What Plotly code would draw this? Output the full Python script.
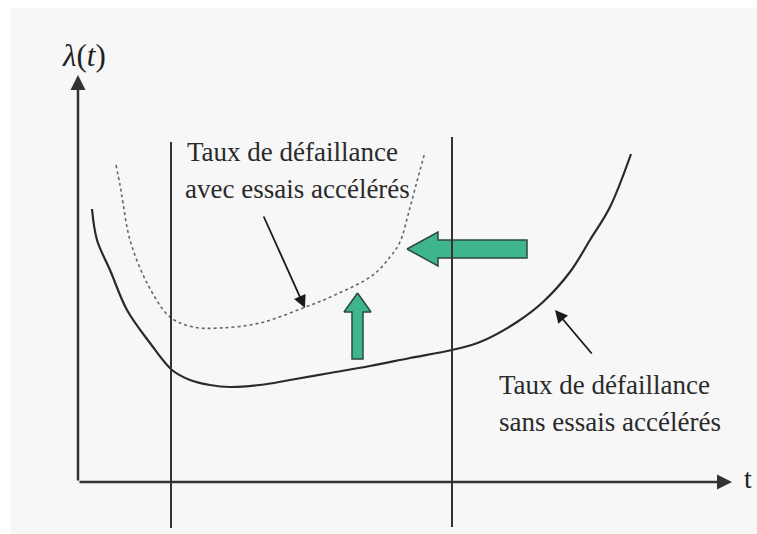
import plotly.graph_objects as go

# Failure rate without accelerated tests (solid curve)
t_sans = [14, 19, 32, 49, 72, 94, 112, 132, 152, 182, 212, 252, 292, 332, 374, 402, 439, 465, 492, 512, 532, 553]
lam_sans = [273, 242, 212, 172, 139, 112, 102, 97, 95, 97, 102, 109, 116, 124, 132, 140, 160, 180, 210, 242, 275, 328]

# Failure rate with accelerated tests (dotted curve)
t_avec = [38, 42, 45, 52, 69, 92, 115, 142, 182, 225, 257, 295, 312, 322, 330, 338, 347]
lam_avec = [317, 297, 279, 242, 199, 165, 155, 154, 159, 174, 187, 207, 225, 240, 267, 297, 330]

# Vertical boundaries (time limits)
t_limits = [93, 374]
lam_limits_low = [-46, -45]
lam_limits_high = [340, 345]

# Green arrows (shift left / shift up)
left_arrow_t = [329, 360, 360, 449, 449, 360, 360, 329]
left_arrow_lam = [233, 250, 242, 242, 224, 224, 216, 233]
up_arrow_t = [279.5, 293, 285, 285, 274, 274, 266, 279.5]
up_arrow_lam = [189, 170, 170, 123, 123, 170, 170, 189]

label_avec = ["Taux de défaillance", "avec essais accélérés"]
label_sans = ["Taux de défaillance", "sans essais accélérés"]

X0, X1 = -78, 679
Y0, Y1 = -52, 482

fig = go.Figure()

fig.add_trace(go.Scatter(x=t_sans, y=lam_sans, mode="lines", line_shape="spline",
                         line=dict(color="#2a2a2a", width=2.2), hoverinfo="skip"))
fig.add_trace(go.Scatter(x=t_avec, y=lam_avec, mode="lines", line_shape="spline",
                         line=dict(color="#666666", width=1.6, dash="dot"), hoverinfo="skip"))
fig.add_trace(go.Scatter(x=left_arrow_t, y=left_arrow_lam, mode="lines", fill="toself",
                         fillcolor="#3fb58c", line=dict(color="#2d4a3e", width=1.5), hoverinfo="skip"))
fig.add_trace(go.Scatter(x=up_arrow_t, y=up_arrow_lam, mode="lines", fill="toself",
                         fillcolor="#3fb58c", line=dict(color="#2d4a3e", width=1.5), hoverinfo="skip"))

shapes = [dict(type="rect", xref="x", yref="y", x0=-67, x1=X1, y0=Y0, y1=474,
               fillcolor="#f7f7f7", line=dict(width=0), layer="below")]
for tl, lo, hi in zip(t_limits, lam_limits_low, lam_limits_high):
    shapes.append(dict(type="line", xref="x", yref="y", x0=tl, x1=tl, y0=lo, y1=hi,
                       line=dict(color="#333333", width=2)))
fig.update_layout(shapes=shapes)

ann = []
# axes with arrows
ann.append(dict(x=0, y=407, ax=0, ay=0, xref="x", yref="y", axref="x", ayref="y",
                text="", showarrow=True, arrowhead=2, arrowsize=1.2, arrowwidth=2.5,
                arrowcolor="#333333", standoff=0))
ann.append(dict(x=654, y=0, ax=0, ay=0, xref="x", yref="y", axref="x", ayref="y",
                text="", showarrow=True, arrowhead=2, arrowsize=1.2, arrowwidth=2.5,
                arrowcolor="#333333", standoff=0))
# pointer arrows
ann.append(dict(x=227, y=174, ax=185, ay=267, xref="x", yref="y", axref="x", ayref="y",
                text="", showarrow=True, arrowhead=2, arrowsize=1.4, arrowwidth=1.8,
                arrowcolor="#1a1a1a", standoff=0))
ann.append(dict(x=477, y=172, ax=515, ay=127, xref="x", yref="y", axref="x", ayref="y",
                text="", showarrow=True, arrowhead=2, arrowsize=1.4, arrowwidth=1.8,
                arrowcolor="#1a1a1a", standoff=0))

font_txt = dict(family="Liberation Serif", size=27, color="#2a2a2a")
for txt, tx, ly in [(label_avec[0], 107, 330), (label_avec[1], 105, 293),
                    (label_sans[0], 419, 97), (label_sans[1], 419, 60)]:
    ann.append(dict(x=tx, y=ly, xref="x", yref="y", text=txt, showarrow=False,
                    xanchor="left", yanchor="middle", font=font_txt))
ann.append(dict(x=6, y=427, xref="x", yref="y", text="<i>λ</i>(<i>t</i>)", showarrow=False,
                xanchor="center", yanchor="middle",
                font=dict(family="Liberation Serif", size=31, color="#222222")))
ann.append(dict(x=670, y=4, xref="x", yref="y", text="t", showarrow=False,
                xanchor="center", yanchor="middle",
                font=dict(family="Liberation Serif", size=28, color="#222222")))

fig.update_layout(
    annotations=ann,
    width=757, height=534,
    margin=dict(l=0, r=0, t=0, b=0),
    paper_bgcolor="white", plot_bgcolor="white",
    showlegend=False,
    xaxis=dict(range=[X0, X1], visible=False, fixedrange=True),
    yaxis=dict(range=[Y0, Y1], visible=False, fixedrange=True),
)

fig.write_html("out.html", config={"displayModeBar": False},
               post_script="document.body.style.margin='0';document.body.style.padding='0';document.body.style.overflow='hidden';")
